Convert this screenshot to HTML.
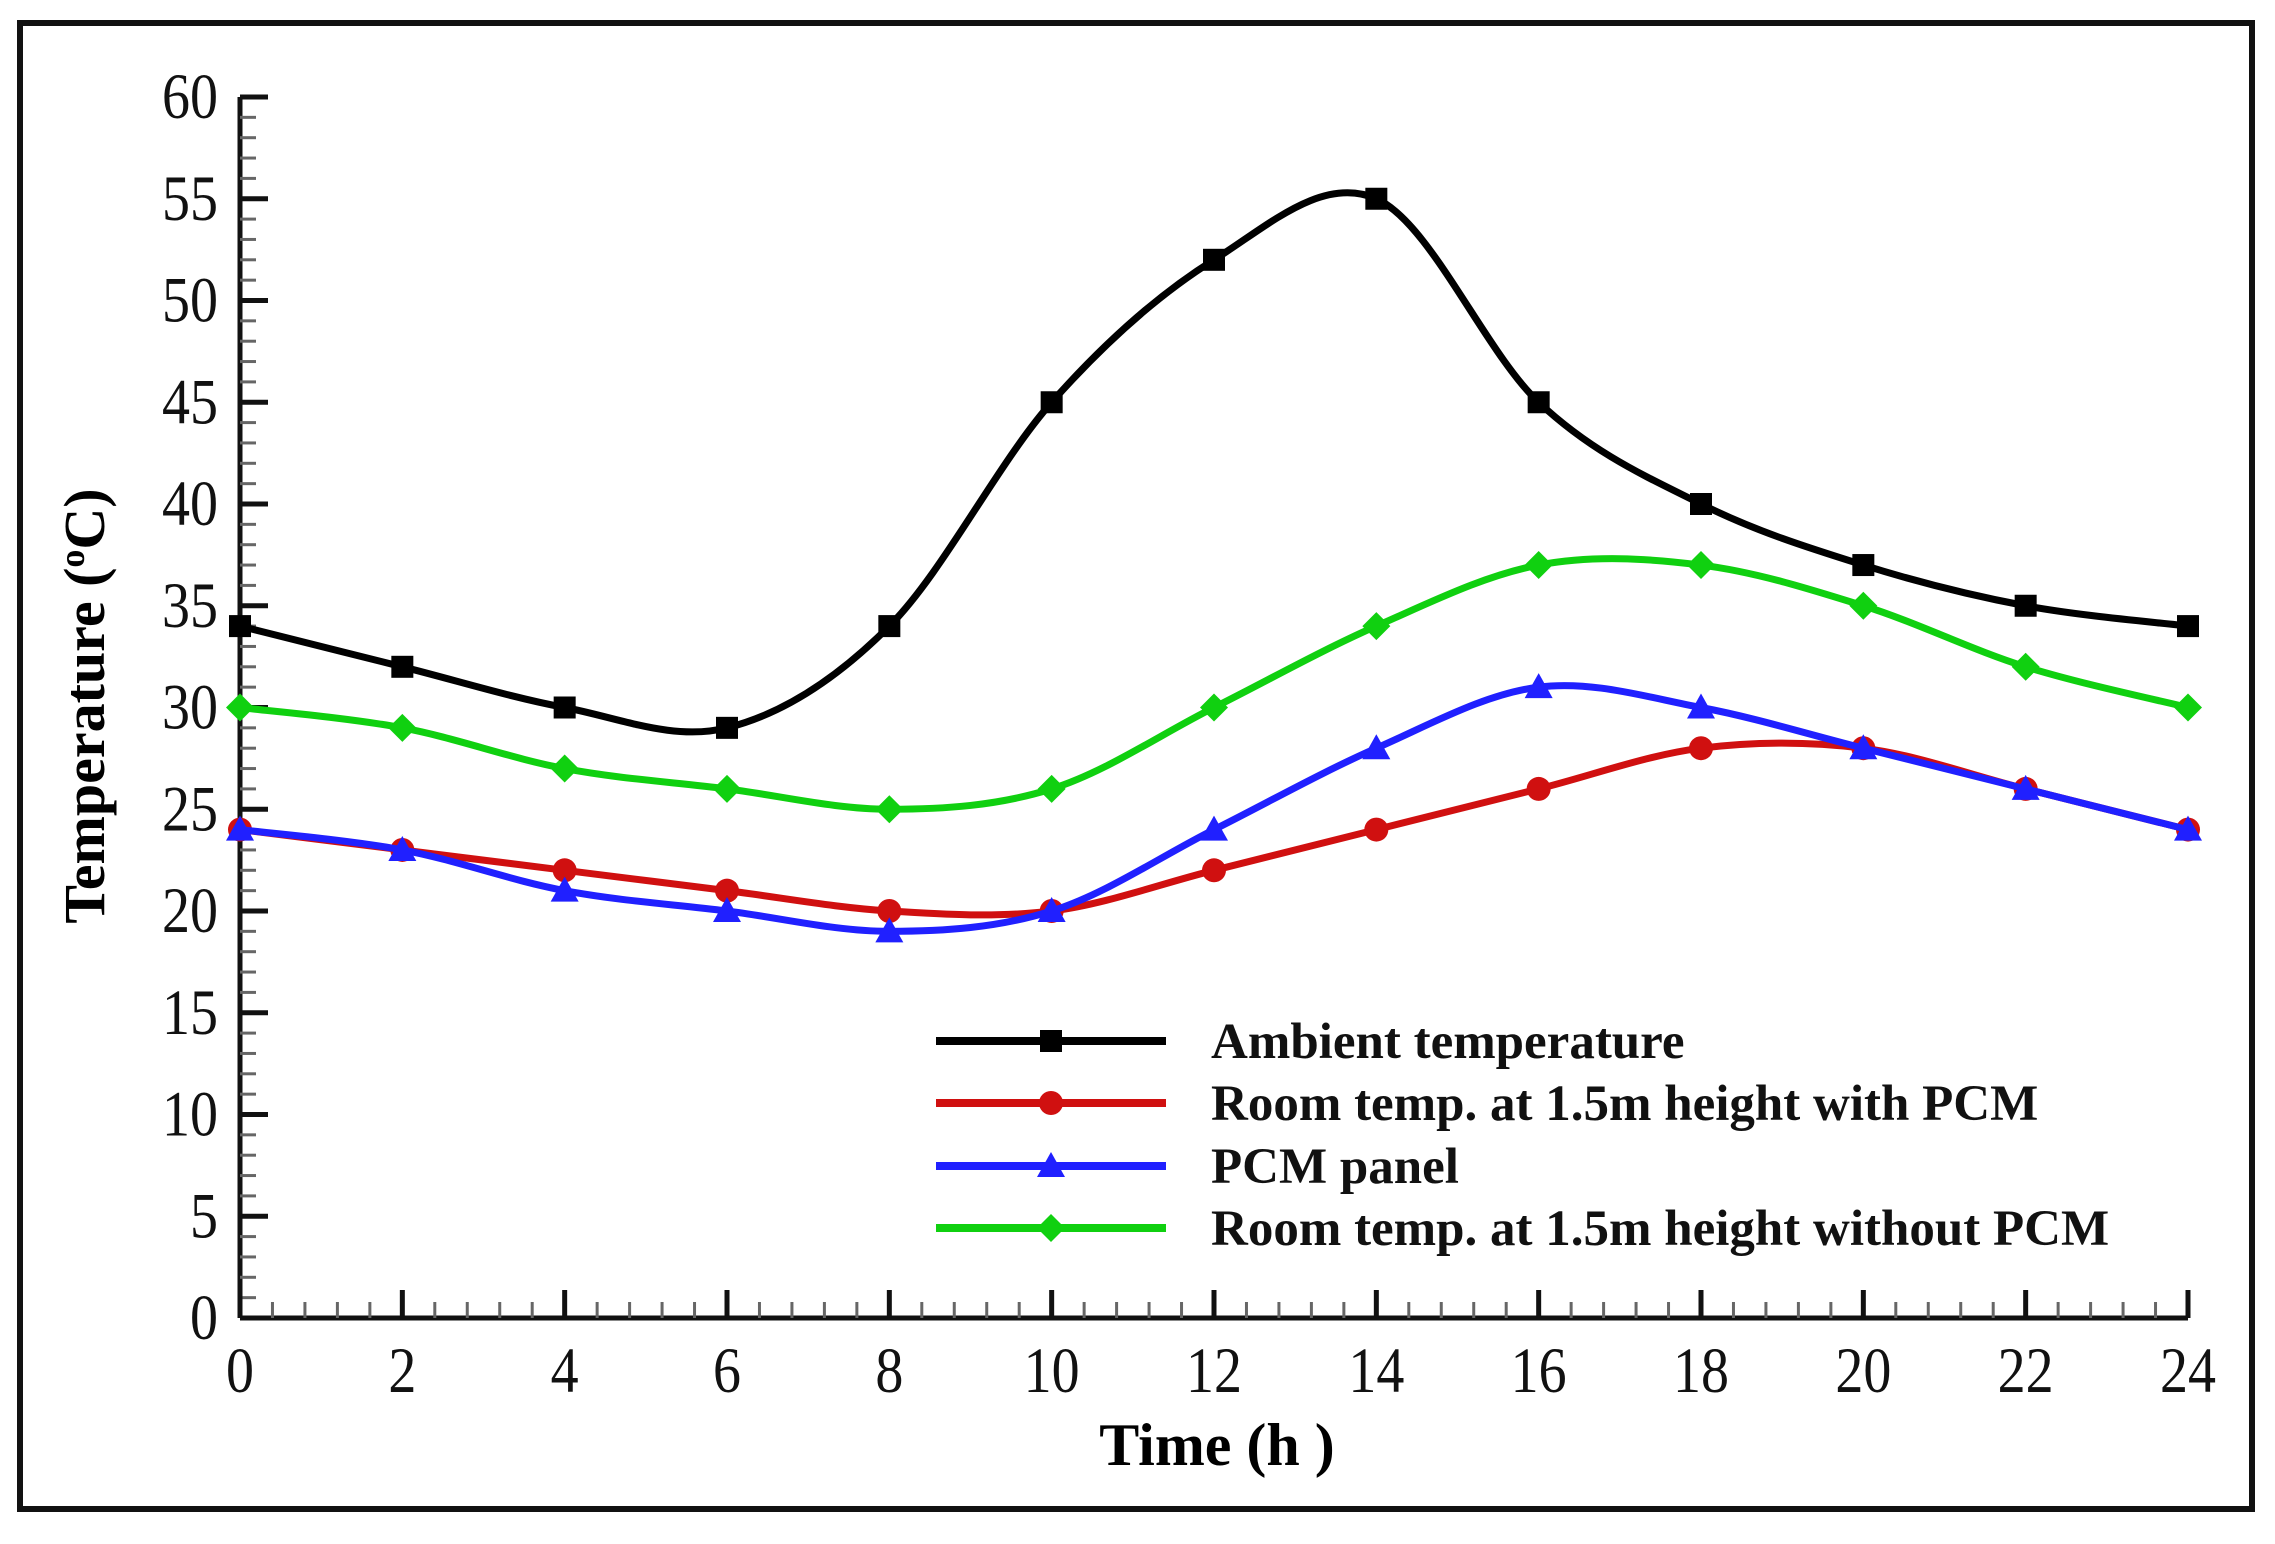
<!DOCTYPE html>
<html><head><meta charset="utf-8"><style>
html,body{margin:0;padding:0;background:#fff;}
svg{display:block;}
</style></head><body>
<svg id="chart" width="2275" height="1544" xmlns="http://www.w3.org/2000/svg">
<rect x="20" y="23" width="2232" height="1486" fill="#fff" stroke="#111" stroke-width="6"/>
<g id="axes"></g><g id="series"></g>
<text transform="translate(104,706) rotate(-90)" text-anchor="middle" font-family="Liberation Serif, serif" font-weight="bold" font-size="58">Temperature (<tspan dy="-20" font-size="36">o</tspan><tspan dy="20">C)</tspan></text>
<text x="1217" y="1465" text-anchor="middle" font-family="Liberation Serif, serif" font-weight="bold" font-size="60">Time (h  )</text>
<g id="legend"></g>
</svg>
<script>
const hours=[0,2,4,6,8,10,12,14,16,18,20,22,24];
const ambient=[34,32,30,29,34,45,52,55,45,40,37,35,34];
const roomPCM=[24,23,22,21,20,20,22,24,26,28,28,26,24];
const panel=[24,23,21,20,19,20,24,28,31,30,28,26,24];
const roomNoPCM=[30,29,27,26,25,26,30,34,37,37,35,32,30];
const xTicks=[0,2,4,6,8,10,12,14,16,18,20,22,24];
const yTicks=[0,5,10,15,20,25,30,35,40,45,50,55,60];
const legendLabels=["Ambient temperature","Room temp. at 1.5m height with PCM","PCM panel","Room temp. at 1.5m height without PCM"];
const NS="http://www.w3.org/2000/svg";
const X0=240,X1=2188,Y0=1318,Y1=97;
const sx=v=>X0+(v-0)/24*(X1-X0);
const sy=v=>Y0-(v-0)/60*(Y0-Y1);
function mk(t,a,p){const e=document.createElementNS(NS,t);for(const k in a)e.setAttribute(k,a[k]);(p||document.getElementById('axes')).appendChild(e);return e;}
let e=mk('line',{x1:X0,y1:Y0,x2:X1,y2:Y0,stroke:'#111','stroke-width':5});

e=mk('line',{x1:X0,y1:Y0,x2:X0,y2:Y1,stroke:'#111','stroke-width':5});

for(let i=0;i<=60;i++){const y=sy(i);const maj=i%5==0;
 e=mk('line',{x1:X0,y1:y,x2:X0+(maj?28:16),y2:y,stroke:maj?'#111':'#666','stroke-width':maj?5:3});
 }
for(let i=0;i<=60;i++){const v=i*0.4;const x=sx(v);const maj=i%5==0;
 e=mk('line',{x1:x,y1:Y0,x2:x,y2:Y0-(maj?28:16),stroke:maj?'#111':'#666','stroke-width':maj?5:3});
 }
yTicks.forEach(v=>{const y=sy(v)+21;const t=mk('text',{x:0,y:0,transform:`translate(${X0-22},${y}) scale(1,1.15)`,'text-anchor':'end','font-family':'Liberation Serif, serif','font-size':56,fill:'#111'});t.textContent=v;
 });
xTicks.forEach(v=>{const t=mk('text',{x:0,y:0,transform:`translate(${sx(v)},${Y0+74}) scale(1,1.15)`,'text-anchor':'middle','font-family':'Liberation Serif, serif','font-size':56,fill:'#111'});t.textContent=v;
 });
function spline(xs,ys){let pts=xs.map((x,i)=>[sx(x),sy(ys[i])]);let d='M'+pts[0][0]+','+pts[0][1];
 for(let i=0;i<pts.length-1;i++){const p0=pts[Math.max(0,i-1)],p1=pts[i],p2=pts[i+1],p3=pts[Math.min(pts.length-1,i+2)];
  const c1=[p1[0]+(p2[0]-p0[0])/6,p1[1]+(p2[1]-p0[1])/6],c2=[p2[0]-(p3[0]-p1[0])/6,p2[1]-(p3[1]-p1[1])/6];
  d+=' C'+c1+' '+c2+' '+p2;}return d;}
function marker(g,type,x,y,c){let m;
 if(type=='square')m=mk('rect',{x:x-11,y:y-11,width:22,height:22,fill:c},g);
 else if(type=='circle')m=mk('circle',{cx:x,cy:y,r:12,fill:c},g);
 else if(type=='tri')m=mk('polygon',{points:`${x},${y-14} ${x-14},${y+11} ${x+14},${y+11}`,fill:c},g);
 else m=mk('polygon',{points:`${x},${y-14} ${x+14},${y} ${x},${y+14} ${x-14},${y}`,fill:c},g);
 return m;}
const sers=[[ambient,'#000','square','ambient'],[roomPCM,'#d01010','circle','room-with-pcm'],[panel,'#2020ff','tri','pcm-panel'],[roomNoPCM,'#10d010','diamond','room-without-pcm']];
const sg=document.getElementById('series');
sers.forEach(([vals,c,m,n])=>{const g=mk('g',{},sg);
 const p=mk('path',{d:spline(hours,vals),fill:'none',stroke:c,'stroke-width':7},g);
 
 hours.forEach((h,i)=>{const mm=marker(g,m,sx(h),sy(vals[i]),c);
  });});
const lg=document.getElementById('legend');

const ly=[1041,1103,1166,1228];
sers.forEach(([v,c,m,n],i)=>{const g=mk('g',{},lg);
 mk('line',{x1:936,y1:ly[i],x2:1166,y2:ly[i],stroke:c,'stroke-width':8},g);
 marker(g,m,1051,ly[i],c);
 const t=mk('text',{x:1211,y:ly[i]+17,'font-family':'Liberation Serif, serif','font-weight':'bold','font-size':51,fill:'#111'},g);t.textContent=legendLabels[i];});
</script>
</body></html>
